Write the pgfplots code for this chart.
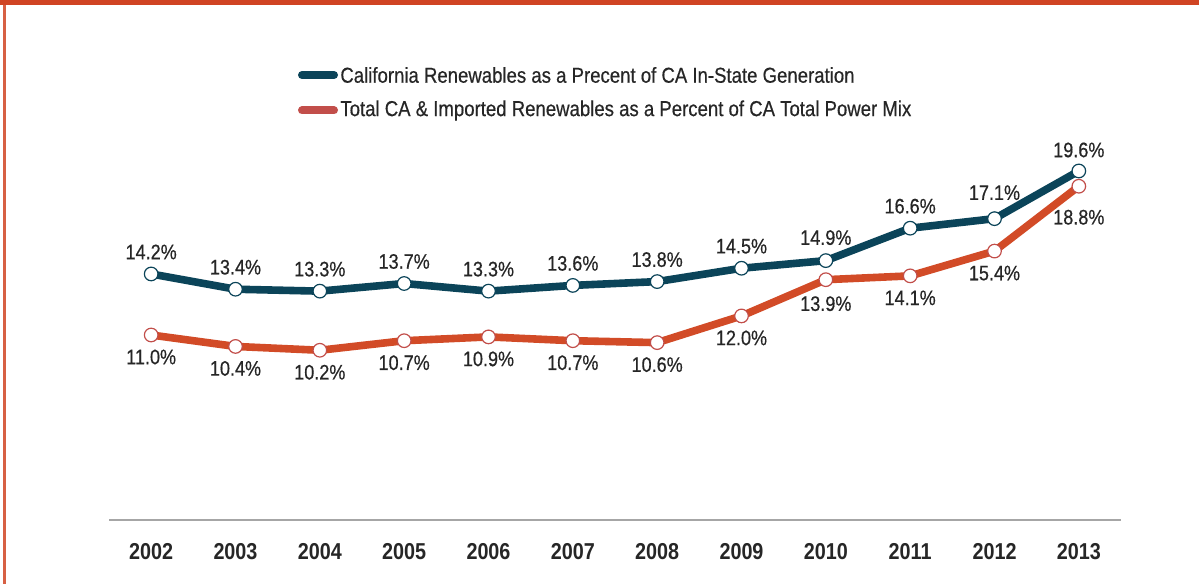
\documentclass[border=0pt]{standalone}
\usepackage{fontspec}
\setmainfont{Liberation Sans}[FakeStretch=0.86]
\newfontfamily\medfont{Liberation Sans}[FakeStretch=0.86, FakeBold=0.5]
\usepackage{pgfplots}
\usepackage{pgfplotstable}
\pgfplotsset{compat=1.18}
\definecolor{cablue}{HTML}{0B4459}
\definecolor{caorange}{HTML}{D24B27}
\definecolor{legred}{HTML}{C24E4A}
\definecolor{frameor}{HTML}{D04423}
\definecolor{txt}{HTML}{262626}
\pgfplotstableread{
x y dy
0 14.2 11
1 13.4 11
2 13.3 11
3 13.7 11
4 13.3 11
5 13.6 11
6 13.8 11
7 14.5 11
8 14.9 11.5
9 16.6 11
10 17.1 13
11 19.6 10.5
}\blue
\pgfplotstableread{
x y dy
0 11.0 -11
1 10.4 -11
2 10.2 -11
3 10.7 -11
4 10.9 -11
5 10.7 -11
6 10.6 -11
7 12.0 -11
8 13.9 -12
9 14.1 -11
10 15.4 -11
11 18.8 -15.5
}\red
\begin{document}
\begin{tikzpicture}[x=0.5pt,y=0.5pt]
\path[use as bounding box] (0,0) rectangle (1199,584);
\fill[frameor] (0,578.5) rectangle (1199,584);
\fill[frameor!85] (3,0) rectangle (6,579);
\begin{axis}[
  at={(54.5pt,32pt)}, anchor=south west,
  scale only axis, width=506pt, height=197.4pt,
  xmin=-0.5, xmax=11.5, ymin=1.3, ymax=22,
  axis y line=none, axis x line*=bottom,
  x axis line style={-, draw=black!35, line width=1pt},
  xtick={0,...,11},
  xticklabels={2002,2003,2004,2005,2006,2007,2008,2009,2010,2011,2012,2013},
  major tick length=0pt,
  xticklabel style={font=\fontsize{11.5}{13}\selectfont\bfseries, text=txt, anchor=center, yshift=-16pt},
  clip=false,
  /pgf/number format/assume math mode=true,
  visualization depends on={\thisrow{dy} \as \dy},
  nodes near coords={\pgfmathprintnumber[fixed, fixed zerofill, precision=1]{\pgfplotspointmeta}\%},
  nodes near coords style={font=\medfont\fontsize{10.5}{12}\selectfont, text=txt, anchor=center, yshift=\dy pt},
]
\addplot[cablue, line width=3.8pt, mark=*, mark size=3.4pt,
  mark options={fill=white, draw=cablue, line width=0.6pt}]
  table[x=x, y=y] {\blue};
\addplot[caorange, line width=3.8pt, mark=*, mark size=3.4pt,
  mark options={fill=white, draw=legred, line width=0.6pt}]
  table[x=x, y=y] {\red};
\end{axis}
\draw[cablue, line width=4pt, line cap=round] (302,509) -- (334,509);
\node[anchor=west, text=txt, font=\medfont\fontsize{10.8}{12}\selectfont, inner sep=0pt] at (340,509) {California Renewables as a Precent of CA In-State Generation};
\draw[legred, line width=4pt, line cap=round] (302,473.5) -- (334,473.5);
\node[anchor=west, text=txt, font=\medfont\fontsize{10.8}{12}\selectfont, inner sep=0pt] at (340,473.5) {Total CA \& Imported Renewables as a Percent of CA Total Power Mix};
\end{tikzpicture}
\end{document}
